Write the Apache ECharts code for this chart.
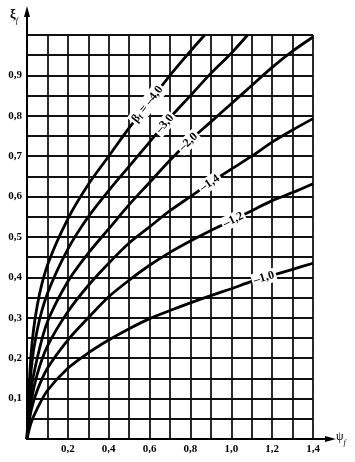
<!DOCTYPE html>
<html><head><meta charset="utf-8">
<script src="https://cdn.jsdelivr.net/npm/echarts@6/dist/echarts.min.js"></script>
<style>html,body{margin:0;padding:0;background:#fff}#c{width:355px;height:462px}</style>
</head><body><div id="c"></div>
<script>
// x-axis (psi_f) and y-axis (xi_f) tick labels
const xTickLabels = ['0,2','0,4','0,6','0,8','1,0','1,2','1,4'];
const yTickLabels = ['0,1','0,2','0,3','0,4','0,5','0,6','0,7','0,8','0,9'];

// curve names (beta_f)
const curveNames = ['β = –4,0','–3,0','–2,0','–1,4','–1,2','–1,0'];

// psi_f values per curve
const xB40 = [0,0.02,0.05,0.1,0.2,0.3,0.4,0.5,0.6,0.7,0.8,0.87];
const xB30 = [0,0.02,0.05,0.1,0.2,0.3,0.4,0.5,0.6,0.7,0.8,0.9,1.0,1.08];
const xFull = [0,0.02,0.05,0.1,0.2,0.3,0.4,0.5,0.6,0.7,0.8,0.9,1.0,1.1,1.2,1.3,1.4];

// xi_f values per curve
const yB40 = [0,0.21,0.33,0.43,0.545,0.63,0.70,0.77,0.835,0.90,0.96,1.0];
const yB30 = [0,0.17,0.27,0.36,0.47,0.55,0.615,0.675,0.735,0.795,0.85,0.905,0.955,1.0];
const yB20 = [0,0.12,0.2,0.29,0.39,0.46,0.52,0.58,0.635,0.69,0.74,0.785,0.83,0.875,0.92,0.96,0.995];
const yB14 = [0,0.09,0.16,0.23,0.315,0.38,0.435,0.485,0.525,0.565,0.60,0.635,0.668,0.70,0.735,0.765,0.793];
const yB12 = [0,0.07,0.12,0.175,0.245,0.30,0.352,0.393,0.43,0.462,0.49,0.516,0.54,0.565,0.59,0.61,0.632];
const yB10 = [0,0.04,0.075,0.12,0.175,0.213,0.245,0.273,0.298,0.318,0.337,0.355,0.372,0.39,0.405,0.42,0.435];

// psi_f position of each curve label
const labelAt = [0.59,0.675,0.79,0.895,1.01,1.16];

const curves = [
  [xB40,yB40],[xB30,yB30],[xFull,yB20],[xFull,yB14],[xFull,yB12],[xFull,yB10]
];
const zip = (xs,ys) => xs.map((x,i)=>[x,ys[i]]);
function interp(xs,ys,x){
  for(let i=1;i<xs.length;i++){
    if(x<=xs[i]){const t=(x-xs[i-1])/(xs[i]-xs[i-1]);return ys[i-1]+t*(ys[i]-ys[i-1]);}
  }
  return ys[ys.length-1];
}

const FONT = '"Liberation Serif","DejaVu Serif","Times New Roman",serif';
const chart = echarts.init(document.getElementById('c'), null, {renderer:'canvas'});

chart.setOption({
  animation:false,
  backgroundColor:'#fff',
  grid:{left:27,top:35,width:286,height:404,containLabel:false},
  xAxis:{type:'value',min:0,max:1.4,interval:0.1,
    axisLine:{show:true,lineStyle:{color:'#000',width:2}},
    axisTick:{show:false},
    splitLine:{show:true,lineStyle:{color:'#111',width:1.8}},
    axisLabel:{interval:0,hideOverlap:false,margin:5,color:'#000',fontFamily:FONT,fontWeight:'bold',fontSize:11,
      formatter:v=>{const k=Math.round(v*10);return (k>0&&k%2===0)?xTickLabels[k/2-1]:'';}}
  },
  yAxis:{type:'value',min:0,max:1.0,interval:0.05,
    axisLine:{show:true,lineStyle:{color:'#000',width:2}},
    axisTick:{show:false},
    splitLine:{show:true,lineStyle:{color:'#111',width:1.8}},
    axisLabel:{interval:0,hideOverlap:false,margin:5,color:'#000',fontFamily:FONT,fontWeight:'bold',fontSize:11,
      formatter:v=>{const k=Math.round(v*20);return (k>0&&k<20&&k%2===0)?yTickLabels[k/2-1]:'';}}
  },
  series:curves.map((c,i)=>({
    type:'line',name:curveNames[i],data:zip(c[0],c[1]),showSymbol:false,
    smooth:0.3,clip:true,
    lineStyle:{color:'#000',width:2.8}
  }))
});

// graphics: axis extensions, arrows, names, curve labels
const g = [];
const o = chart.convertToPixel({gridIndex:0},[0,0]);
const tr = chart.convertToPixel({gridIndex:0},[1.4,1.0]);
g.push({type:'line',shape:{x1:o[0],y1:tr[1],x2:o[0],y2:12},style:{stroke:'#000',lineWidth:2}});
g.push({type:'polygon',shape:{points:[[o[0],6],[o[0]-3,17],[o[0]+3,17]]},style:{fill:'#000'}});
g.push({type:'line',shape:{x1:tr[0],y1:o[1],x2:330,y2:o[1]},style:{stroke:'#000',lineWidth:2}});
g.push({type:'polygon',shape:{points:[[336,o[1]],[325,o[1]-3],[325,o[1]+3]]},style:{fill:'#000'}});
g.push({type:'text',x:10,y:8,style:{text:'{a|ξ}{s|f}',fill:'#000',
  rich:{a:{fontFamily:FONT,fontSize:13,fontWeight:'bold',verticalAlign:'top'},
        s:{fontFamily:FONT,fontSize:8,fontStyle:'italic',padding:[9,0,0,0]}}}});
g.push({type:'text',x:336,y:431,style:{text:'{a|ψ}{s|f}',fill:'#000',
  rich:{a:{fontFamily:FONT,fontSize:12,verticalAlign:'top'},
        s:{fontFamily:FONT,fontSize:8,fontStyle:'italic',padding:[8,0,0,0]}}}});

curves.forEach((c,i)=>{
  const x=labelAt[i];
  const p=chart.convertToPixel({gridIndex:0},[x,interp(c[0],c[1],x)]);
  const p1=chart.convertToPixel({gridIndex:0},[x-0.04,interp(c[0],c[1],x-0.04)]);
  const p2=chart.convertToPixel({gridIndex:0},[x+0.04,interp(c[0],c[1],x+0.04)]);
  const ang=Math.atan2(-(p2[1]-p1[1]),p2[0]-p1[0]);
  let txt;
  if(i===0){txt='{t|β}{s|f}{t| = –4,0}';}
  else {txt='{t|'+curveNames[i]+'}';}
  g.push({type:'text',x:p[0],y:p[1],rotation:ang,z:100,
    style:{text:txt,align:'center',verticalAlign:'middle',fill:'#000',
      backgroundColor:'#fff',padding:[1,2,1,2],
      rich:{t:{fontFamily:FONT,fontSize:12,fontWeight:'bold'},
            s:{fontFamily:FONT,fontSize:8,fontWeight:'bold',padding:[6,0,0,0]}}}});
});
chart.setOption({graphic:g});
</script></body></html>
